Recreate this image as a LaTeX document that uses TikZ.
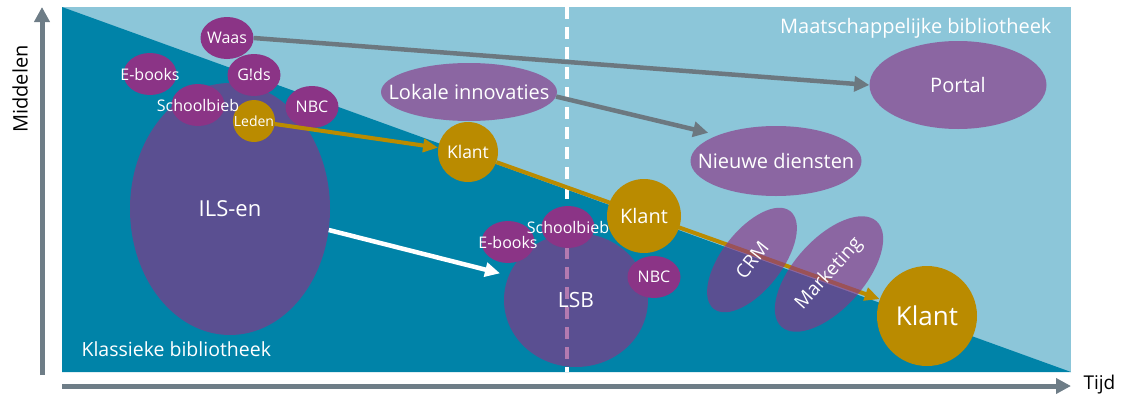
\documentclass[tikz,border=0pt]{standalone}
\usepackage{fontspec}
\setmainfont{Open Sans}
\usetikzlibrary{shapes.geometric, arrows.meta, positioning}

\definecolor{skyblue}{RGB}{140,198,217}
\definecolor{deepteal}{RGB}{0,131,168}
\definecolor{plum}{RGB}{139,52,134}
\definecolor{gold}{RGB}{186,139,0}
\definecolor{arrowgrey}{RGB}{108,120,128}
\definecolor{axisgrey}{RGB}{110,125,135}

\newcommand{\bubtxt}[1]{\makebox[0pt]{#1}}
\newcommand{\fs}[1]{\fontsize{#1}{#1}\selectfont}

\begin{document}
\begin{tikzpicture}[x=1pt, y=-1pt,
    bub/.style={ellipse, fill=plum, minimum width=53pt, minimum height=42pt,
        inner sep=0pt, text=white, font=\fs{16}},
    bigbub/.style={ellipse, fill=plum, fill opacity=0.65, text opacity=1,
        inner sep=0pt, text=white, font=\fs{20}},
    klantbub/.style={circle, fill=gold, inner sep=0pt, text=white},
    greyflow/.style={draw=arrowgrey, line width=4.5pt,
        -{Triangle[length=15pt, width=15pt]}},
    goldflow/.style={draw=gold, line width=4pt,
        -{Triangle[length=15pt, width=13pt]}},
    whiteflow/.style={draw=white, line width=4.5pt,
        -{Triangle[length=15pt, width=14pt]}},
    axisline/.style={draw=axisgrey, line width=5pt,
        -{Triangle[length=15pt, width=15pt]}}
]
\useasboundingbox (0,0) rectangle (1128,394);

% Background: classic (dark) and social (light) library
\fill[skyblue] (62,7) rectangle (1071,372);
\fill[deepteal] (62,7) -- (1071,372) -- (62,372) -- cycle;
\draw[white, line width=4pt, dash pattern=on 12pt off 8pt] (567,7) -- (567,372);

% Axes
\coordinate (ybot) at (42,375);
\coordinate (ytop) at (42,7);
\coordinate (xleft) at (62,386);
\coordinate (xright) at (1071,386);
\draw[axisline] (ybot) -- (ytop);
\draw[axisline] (xleft) -- (xright);
\node[rotate=90, font=\fs{20}] (ylbl) at (20,89) {Middelen};
\node[anchor=base west, font=\fs{19}] (xlbl) at (1080,389) {Tijd};

% Area labels
\node[anchor=base east, text=white, font=\fs{20}] (maatlbl) at (1055,33) {Maatschappelijke bibliotheek};
\node[anchor=base west, text=white, font=\fs{19.5}] (klaslbl) at (78,356) {Klassieke bibliotheek};

% Big bubbles
\node[bigbub, minimum width=200pt, minimum height=252pt, font=\fs{22}] (ils) at (230,209) {ILS-en};
\node[bigbub, minimum width=144pt, minimum height=134pt, font=\fs{21}] (lsb) at (576,300) {LSB};
\node[bigbub, minimum width=176pt, minimum height=58pt] (lokaal) at (469,92) {\bubtxt{Lokale innovaties}};
\node[bigbub, minimum width=171pt, minimum height=70pt] (nieuw) at (776,161) {\bubtxt{Nieuwe diensten}};
\node[bigbub, minimum width=177pt, minimum height=88pt] (portal) at (958,85) {Portal};

% Small bubbles, top left
\node[bub] (waas) at (227,38) {\bubtxt{Waas}};
\node[bub] (ebooksA) at (150,74) {\bubtxt{E-books}};
\node[bub] (gidsA) at (254,75) {\bubtxt{G!ds}};
\node[bub] (nbcA) at (312,107) {\bubtxt{NBC}};
\node[klantbub, minimum size=42pt, font=\fs{14}] (leden) at (254,121) {\bubtxt{Leden}};
\node[bub] (schoolA) at (198,105) {\bubtxt{Schoolbieb}};

% Klant circles
\node[klantbub, minimum size=60pt, font=\fs{17.5}] (klant1) at (468,152) {Klant};
\node[klantbub, minimum size=100pt, font=\fs{26}] (klant3) at (927,316) {Klant};

% Arrows
\draw[greyflow] (waas.east) -- (portal.west);
\draw[greyflow, shorten >=10pt] (lokaal.-3) -- (nieuw.156);
\draw[whiteflow, shorten >=9pt] (ils.-12) -- (lsb.160);
\draw[goldflow] (leden) -- (klant1);
\draw[goldflow] (klant1) -- (klant3);

% CRM and marketing
\node[bigbub, rotate=52, minimum width=124pt, minimum height=60pt, font=\fs{19}] (crm) at (752,260) {CRM};
\node[bigbub, rotate=48, minimum width=142pt, minimum height=70pt, font=\fs{19}] (marketing) at (829,274) {\bubtxt{Marketing}};

% Small bubbles round LSB
\node[bub] (ebooksB) at (508,242) {\bubtxt{E-books}};
\node[bub] (schoolB) at (568,227) {\bubtxt{Schoolbieb}};
\node[bub] (nbcB) at (654,277) {\bubtxt{NBC}};
\node[klantbub, minimum size=74pt, font=\fs{20}] (klant2) at (644,216) {Klant};

\end{tikzpicture}
\end{document}
